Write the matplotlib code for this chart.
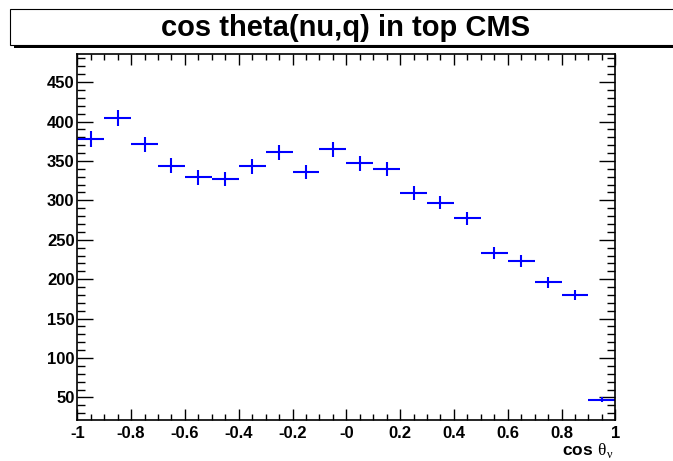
import numpy as np
import matplotlib
matplotlib.use("Agg")
import matplotlib.pyplot as plt
from matplotlib.patches import Rectangle
from matplotlib.ticker import MultipleLocator, FixedLocator, FixedFormatter

plt.rcParams['font.family'] = ['Liberation Sans', 'DejaVu Sans']
plt.rcParams['mathtext.fontset'] = 'custom'
plt.rcParams['mathtext.rm'] = 'Liberation Serif'
plt.rcParams['mathtext.bf'] = 'Liberation Sans:bold'

# histogram content, 20 bins in cos theta
bin_centers = [-0.95, -0.85, -0.75, -0.65, -0.55, -0.45, -0.35, -0.25, -0.15, -0.05,
               0.05, 0.15, 0.25, 0.35, 0.45, 0.55, 0.65, 0.75, 0.85, 0.95]
counts = [378, 405, 371, 344, 329, 327, 343, 361, 336, 365,
          347, 340, 309, 297, 277, 233, 223, 196, 180, 47]
count_errs = [9.8, 10.1, 9.6, 9.3, 9.1, 9.0, 9.3, 9.5, 9.2, 9.5,
              9.3, 9.2, 8.8, 8.6, 8.3, 7.6, 7.5, 7.0, 6.7, 3.4]
bin_half_width = 0.05

x_tick_vals = [-1, -0.8, -0.6, -0.4, -0.2, 0, 0.2, 0.4, 0.6, 0.8, 1]
x_tick_labels = ['-1', '-0.8', '-0.6', '-0.4', '-0.2', '-0', '0.2', '0.4', '0.6', '0.8', '1']
y_tick_vals = [50, 100, 150, 200, 250, 300, 350, 400, 450]

W, H = 673, 461
fig = plt.figure(figsize=(W / 100, H / 100), dpi=100)
ax = fig.add_axes([77.3 / W, 1 - 420.3 / H, (615.3 - 77.3) / W, (420.3 - 54.5) / H])

ax.errorbar(bin_centers, counts, xerr=bin_half_width, yerr=count_errs,
            fmt='none', ecolor='#0000ff', elinewidth=1.5, capsize=0)

ax.set_xlim(-1, 1)
ax.set_ylim(21, 485)

ax.xaxis.set_major_locator(FixedLocator(x_tick_vals))
ax.xaxis.set_major_formatter(FixedFormatter(x_tick_labels))
ax.xaxis.set_minor_locator(MultipleLocator(0.05))
ax.yaxis.set_major_locator(FixedLocator(y_tick_vals))
ax.yaxis.set_minor_locator(MultipleLocator(10))

ax.tick_params(axis='both', which='both', direction='in', top=True, right=True, width=1.0)
ax.tick_params(axis='x', which='major', length=8, labelsize=12, pad=4)
ax.tick_params(axis='x', which='minor', length=4)
ax.tick_params(axis='y', which='major', length=11.5, labelsize=12, pad=2)
ax.tick_params(axis='y', which='minor', length=5.8)
for lab in ax.get_xticklabels() + ax.get_yticklabels():
    lab.set_fontweight('bold')
for sp in ax.spines.values():
    sp.set_linewidth(1.2)

# x axis title at the right end
fig.text(613 / W, 1 - 450 / H, r'$\mathbf{cos}\ \mathrm{\theta}_{\mathrm{\nu}}$',
         ha='right', va='center', fontsize=12.5)

# title box with shadow, ROOT style
fig.patches.append(Rectangle((14 / W, 1 - 48 / H), 700 / W, 38 / H,
                             transform=fig.transFigure, facecolor='black',
                             edgecolor='none', zorder=1))
fig.patches.append(Rectangle((10 / W, 1 - 45 / H), 700 / W, 36 / H,
                             transform=fig.transFigure, facecolor='white',
                             edgecolor='black', linewidth=0.8, zorder=2))
fig.text(346 / W, 1 - 28 / H, 'cos theta(nu,q) in top CMS', ha='center', va='center',
         fontsize=21, fontweight='bold', zorder=3)

fig.savefig('out.png', dpi=100)
